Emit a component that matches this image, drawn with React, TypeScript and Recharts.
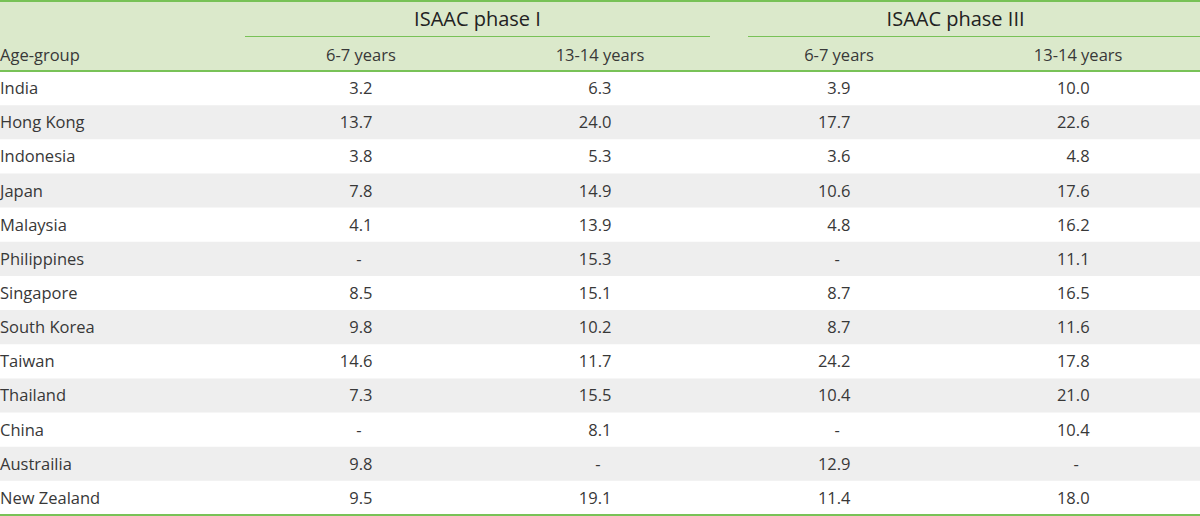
import React from 'react'
import { ScatterChart, Scatter, XAxis, YAxis, ReferenceArea, ReferenceLine } from 'recharts'

const countries = ['India', 'Hong Kong', 'Indonesia', 'Japan', 'Malaysia', 'Philippines', 'Singapore',
    'South Korea', 'Taiwan', 'Thailand', 'China', 'Austrailia', 'New Zealand']

const phase1Age67 = [3.2, 13.7, 3.8, 7.8, 4.1, null, 8.5, 9.8, 14.6, 7.3, null, 9.8, 9.5]
const phase1Age1314 = [6.3, 24.0, 5.3, 14.9, 13.9, 15.3, 15.1, 10.2, 11.7, 15.5, 8.1, null, 19.1]
const phase3Age67 = [3.9, 17.7, 3.6, 10.6, 4.8, null, 8.7, 8.7, 24.2, 10.4, null, 12.9, 11.4]
const phase3Age1314 = [10.0, 22.6, 4.8, 17.6, 16.2, 11.1, 16.5, 11.6, 17.8, 21.0, 10.4, null, 18.0]

const columnLabels = ['6-7 years', '13-14 years', '6-7 years', '13-14 years']
const groupLabels = ['ISAAC phase I', 'ISAAC phase III']
const rowHeader = 'Age-group'

const columns = [phase1Age67, phase1Age1314, phase3Age67, phase3Age1314]

const GREEN = '#78c257'
const HEADER_BG = '#dbe9cb'
const ROW_GRAY = '#eeeeee'
const TEXT = '#383838'
const FONT = '"Open Sans", "Noto Sans", sans-serif'
const SIZE = 16.5

// underline extents under the two group headers (pixels)
const groupRules = [[245, 710], [748, 1200]]

const columnData = columns.map((values, ci) =>
    values.map((v, r) => ({ col: ci + 1, row: r, value: v })))

const headerTicks = [0, 1, 1.5, 2, 3, 3.5, 4]

function HeaderTick(props: any) {
    const { x, payload } = props
    const v = payload.value
    if (v === 0) {
        return <text x={0} y={54} fill={TEXT} fontSize={SIZE} dominantBaseline="central" fontFamily={FONT}>{rowHeader}</text>
    }
    if (Number.isInteger(v)) {
        return <text x={x} y={54} fill={TEXT} fontSize={SIZE} textAnchor="middle" dominantBaseline="central" fontFamily={FONT}>{columnLabels[v - 1]}</text>
    }
    const gi = v < 2.5 ? 0 : 1
    return (
        <g>
            <text x={x - 3} y={18} fill="#222" fontSize={20} textAnchor="middle" dominantBaseline="central" fontFamily={FONT}>{groupLabels[gi]}</text>
            <line x1={groupRules[gi][0]} x2={groupRules[gi][1]} y1={36.5} y2={36.5} stroke={GREEN} strokeWidth={1} />
        </g>
    )
}

function CountryTick(props: any) {
    const { y, payload } = props
    return <text x={0} y={y - 0.5} fill={TEXT} fontSize={SIZE} dominantBaseline="central" fontFamily={FONT}>{countries[payload.value]}</text>
}

function CellText(props: any) {
    const { cx, cy, payload } = props
    if (payload.value == null) {
        return <text x={cx - 2} y={cy - 0.5} fill={TEXT} fontSize={SIZE} textAnchor="middle" dominantBaseline="central" fontFamily={FONT}>-</text>
    }
    return <text x={cx + 11.5} y={cy - 0.5} fill={TEXT} fontSize={SIZE} textAnchor="end" dominantBaseline="central" fontFamily={FONT}>{payload.value.toFixed(1)}</text>
}

export default function App() {
    return (
        <div style={{
            position: 'absolute', left: 0, top: 0, width: 1200, height: 516,
            background: `linear-gradient(${GREEN} 0 2px, ${HEADER_BG} 2px 71px, #fff 71px)`
        }}>
            <ScatterChart width={1200} height={516} margin={{ top: 0, right: 0, bottom: 1, left: 0 }}>
                <XAxis type="number" dataKey="col" orientation="top" height={71} domain={[-0.51, 4.51]}
                    ticks={headerTicks} interval={0} tick={<HeaderTick />} tickLine={false}
                    axisLine={{ stroke: GREEN, strokeWidth: 2 }} />
                <YAxis type="number" dataKey="row" domain={[-0.5, countries.length - 0.5]} reversed mirror
                    ticks={countries.map((_, i) => i)} interval={0} tick={<CountryTick />}
                    tickLine={false} axisLine={false} />
                {countries.map((c, i) => i % 2 === 1 ? (
                    <ReferenceArea key={c} y1={i - 0.5} y2={i + 0.5} fill={ROW_GRAY} fillOpacity={1} stroke="none" />
                ) : null)}
                <ReferenceLine y={countries.length - 0.5} stroke={GREEN} strokeWidth={2} />
                {columnData.map((d, i) => (
                    <Scatter key={i} data={d} shape={<CellText />} isAnimationActive={false} />
                ))}
            </ScatterChart>
        </div>
    )
}
